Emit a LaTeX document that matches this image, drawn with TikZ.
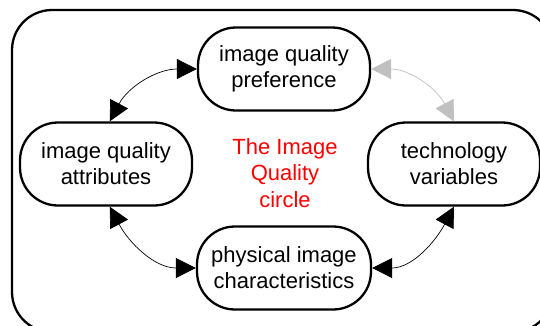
\documentclass[tikz,border=0pt]{standalone}
\usepackage{fontspec}
\setmainfont{Liberation Sans}
\usetikzlibrary{arrows.meta}
\definecolor{linkgray}{HTML}{C0C0C0}
\begin{document}
\begin{tikzpicture}[x=1pt,y=-1pt,
  stage/.style={draw, line width=2.3pt, rounded corners=38pt,
    minimum width=172pt, minimum height=83pt, align=center, inner sep=0pt,
    font=\fontsize{22}{26}\selectfont},
  tip/.tip={Triangle[length=20pt,width=20pt]},
  link/.style={line width=0.7pt, tip-tip},
]
\useasboundingbox (0,0) rectangle (540,325);
% enclosing frame
\draw[line width=2.3pt, rounded corners=40pt] (12,10) rectangle (553,332);

% the four stages
\node[stage] (pref) at (284,69)  {image quality\\preference};
\node[stage] (attr) at (106,164) {image quality\\attributes};
\node[stage] (tech) at (454,164) {technology\\variables};
\node[stage, minimum width=174pt] (phys) at (284,268) {physical image\\characteristics};

% title in the middle
\node[align=center, text=red, font=\fontsize{22}{26.5}\selectfont] (title) at (285,173)
  {The Image\\Quality\\circle};

% links between the stages
\draw[link] (pref.west) to[out=180, in=62] (attr.85);
\draw[link, draw=linkgray] (pref.east) to[out=0, in=118] (tech.north);
\draw[link] (attr.-85) to[out=-62, in=180] (phys.west);
\draw[link] (phys.east) to[out=0, in=-118] (tech.south);
\end{tikzpicture}
\end{document}
